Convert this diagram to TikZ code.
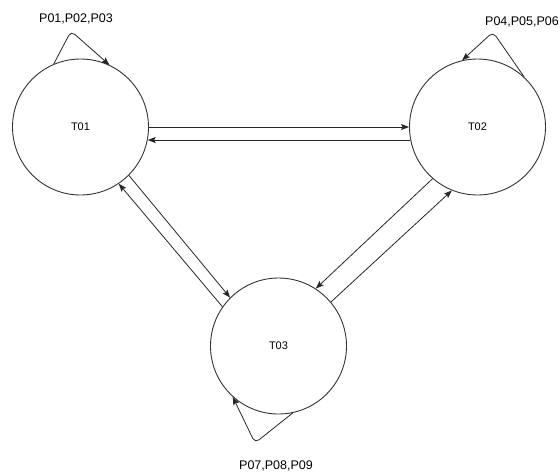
\documentclass[tikz,border=0pt]{standalone}
\usepackage{fontspec}
\setmainfont{Liberation Sans}
\usetikzlibrary{arrows.meta}
\begin{document}
\begin{tikzpicture}[x=1pt,y=-1pt,
  state/.style={circle,draw=black!80,line width=0.9pt,minimum size=136pt,inner sep=0pt,
    font=\fontsize{11}{13}\selectfont},
  conn/.style={draw=black!85,line width=0.8pt,-{Stealth[length=8pt,width=6pt,inset=1.5pt]}},
  loop/.style={conn,rounded corners=5pt},
  tag/.style={font=\fontsize{12.5}{14}\selectfont,inner sep=0pt}]
\useasboundingbox (0,0) rectangle (560,475);

% states
\node[state] (t1) at (80.5,127) {T01};
\node[state] (t2) at (477.5,127) {T02};
\node[state] (t3) at (278.5,346) {T03};

% transitions between T01 and T02
\draw[conn] (t1.0) -- (t2.180);
\draw[conn] (t2.191) -- (t1.349);

% transitions between T01 and T03
\draw[conn] (t1.315) -- (t3.135);
\draw[conn] (t3.145) -- (t1.304);

% transitions between T02 and T03
\draw[conn] (t2.229) -- (t3.57);
\draw[conn] (t3.40) -- (t2.248);

% self loops
\coordinate (a1) at (71,31);
\coordinate (a2) at (493,32);
\coordinate (a3) at (255,443);
\draw[loop] (t1.113) -- (a1) -- (t1.65);
\draw[loop] (t2.47) -- (a2) -- (t2.103);
\draw[loop] (t3.282) -- (a3) -- (t3.228);

% loop labels
\node[tag] (l1) at (76,19) {P01,P02,P03};
\node[tag] (l2) at (522,22) {P04,P05,P06};
\node[tag] (l3) at (276,466) {P07,P08,P09};
\end{tikzpicture}
\end{document}
